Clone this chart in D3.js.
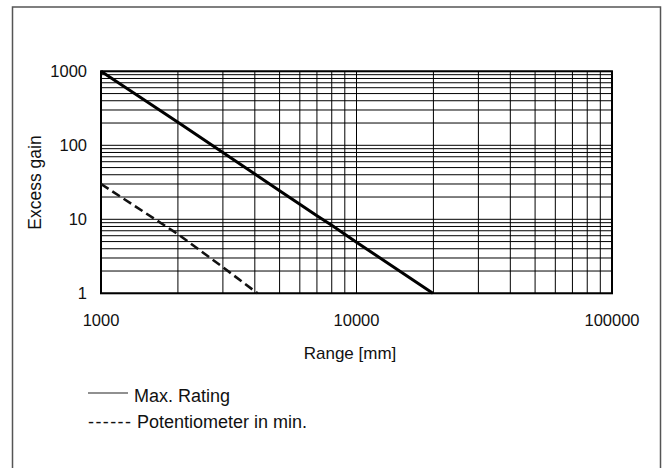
<!DOCTYPE html>
<html>
<head>
<meta charset="utf-8">
<script src="https://d3js.org/d3.v7.min.js"></script>
<style>
  body { margin: 0; background: #fff; }
  text { font-family: "Liberation Sans", Arial, Helvetica, sans-serif; fill: #111; }
</style>
</head>
<body>
<script>
  // values
  var maxRating = [[1000, 1000], [2000, 205], [3000, 80], [4000, 41], [5000, 24.3],
                   [6000, 16], [7000, 11.2], [8000, 8.3], [9000, 6.3], [10000, 4.9],
                   [19900, 1]];
  var potMin = [[1000, 30], [2000, 6.3], [3000, 2.25], [4100, 1]];
  var xTicks = [1000, 10000, 100000];
  var yTicks = [1, 10, 100, 1000];
  var legendItems = ["Max. Rating", "Potentiometer in min."];

  var W = 670, H = 468;
  var svg = d3.select("body").append("svg")
      .attr("width", W)
      .attr("height", H);

  // outer frame
  svg.append("rect")
      .attr("x", 12.5).attr("y", 7)
      .attr("width", 648).attr("height", 470)
      .attr("fill", "none")
      .attr("stroke", "#555")
      .attr("stroke-width", 1.5);

  var x = d3.scaleLog().domain([1000, 100000]).range([101, 612]);
  var y = d3.scaleLog().domain([1, 1000]).range([293.3, 71.3]);

  // grid lines, every 1..9 of each decade
  var xGrid = [], yGrid = [];
  [1000, 10000].forEach(function(d) { for (var i = 1; i < 10; i++) xGrid.push(d * i); });
  xGrid.push(100000);
  [1, 10, 100].forEach(function(d) { for (var i = 1; i < 10; i++) yGrid.push(d * i); });
  yGrid.push(1000);

  var grid = svg.append("g").attr("stroke", "#000").attr("stroke-width", 1);
  grid.selectAll(".vx").data(xGrid).enter().append("line")
      .attr("x1", function(d) { return x(d); }).attr("x2", function(d) { return x(d); })
      .attr("y1", y(1)).attr("y2", y(1000));
  grid.selectAll(".hy").data(yGrid).enter().append("line")
      .attr("y1", function(d) { return y(d); }).attr("y2", function(d) { return y(d); })
      .attr("x1", x(1000)).attr("x2", x(100000));

  // plot border
  svg.append("rect")
      .attr("x", x(1000)).attr("y", y(1000))
      .attr("width", x(100000) - x(1000)).attr("height", y(1) - y(1000))
      .attr("fill", "none").attr("stroke", "#000").attr("stroke-width", 2);

  // tick labels
  svg.selectAll(".xt").data(xTicks).enter().append("text")
      .attr("x", function(d) { return x(d); })
      .attr("y", 326)
      .attr("text-anchor", "middle")
      .style("font-size", "16.5px")
      .text(function(d) { return d; });
  svg.selectAll(".yt").data(yTicks).enter().append("text")
      .attr("x", 87)
      .attr("y", function(d) { return y(d) + 6; })
      .attr("text-anchor", "end")
      .style("font-size", "16.5px")
      .text(function(d) { return d; });

  // axis titles
  svg.append("text")
      .attr("x", 350).attr("y", 359)
      .attr("text-anchor", "middle")
      .style("font-size", "17px")
      .text("Range [mm]");
  svg.append("text")
      .attr("transform", "translate(41,182.5)rotate(-90)")
      .attr("text-anchor", "middle")
      .style("font-size", "17.5px")
      .text("Excess gain");

  // curves
  var line = d3.line()
      .x(function(d) { return x(d[0]); })
      .y(function(d) { return y(d[1]); });
  svg.append("path").datum(maxRating)
      .attr("d", line)
      .attr("fill", "none").attr("stroke", "#000").attr("stroke-width", 3);
  svg.append("path").datum(potMin)
      .attr("d", line)
      .attr("fill", "none").attr("stroke", "#111").attr("stroke-width", 2.6)
      .attr("stroke-dasharray", "9,4.5");

  // legend
  svg.append("line")
      .attr("x1", 88).attr("x2", 128)
      .attr("y1", 393).attr("y2", 393)
      .attr("stroke", "#222").attr("stroke-width", 1.2);
  svg.append("text")
      .attr("x", 134).attr("y", 401.5)
      .style("font-size", "18px")
      .text(legendItems[0]);
  svg.append("text")
      .attr("x", 88).attr("y", 427.5)
      .attr("textLength", 43)
      .style("font-size", "18px")
      .text("------");
  svg.append("text")
      .attr("x", 137).attr("y", 427.5)
      .style("font-size", "18px")
      .text(legendItems[1]);
</script>
</body>
</html>
